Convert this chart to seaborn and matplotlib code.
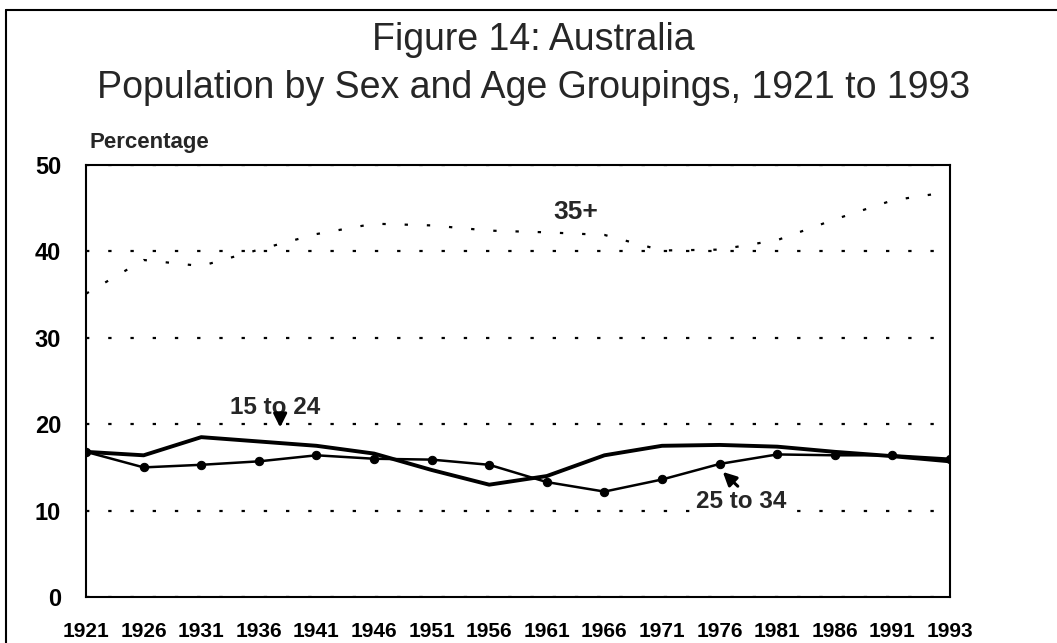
import pandas as pd
import matplotlib.pyplot as plt
import seaborn as sns

years = ['1921', '1926', '1931', '1936', '1941', '1946', '1951', '1956',
         '1961', '1966', '1971', '1976', '1981', '1986', '1991', '1993']
age_15_24 = [16.8, 16.4, 18.5, 18.0, 17.5, 16.6, 14.7, 13.0,
             14.0, 16.4, 17.5, 17.6, 17.4, 16.8, 16.3, 15.7]
age_25_34 = [16.8, 15.0, 15.3, 15.7, 16.4, 16.0, 15.9, 15.3,
             13.3, 12.2, 13.6, 15.4, 16.5, 16.4, 16.4, 16.0]
age_35_plus = [35.1, 39.0, 38.3, 40.2, 42.0, 43.2, 43.0, 42.4,
               42.2, 41.9, 40.1, 40.2, 41.3, 43.7, 45.9, 46.9]

df = pd.DataFrame({'year': years, '15 to 24': age_15_24,
                   '25 to 34': age_25_34, '35+': age_35_plus})

sns.set_theme(style='white')
plt.rcParams['font.family'] = ['Liberation Sans', 'DejaVu Sans']

fig = plt.figure(figsize=(10.57, 6.43), dpi=100)
ax = fig.add_axes([0.0814, 0.0715, 0.8174, 0.672])

dots = (0, (1.5, 8.5))
sns.lineplot(data=df, x='year', y='35+', ax=ax, color='black', lw=1.6,
             linestyle=dots, sort=False)
sns.lineplot(data=df, x='year', y='15 to 24', ax=ax, color='black', lw=2.8,
             sort=False)
sns.lineplot(data=df, x='year', y='25 to 34', ax=ax, color='black', lw=1.8,
             marker='o', markersize=6, markeredgecolor='black', sort=False)

ax.set_xlim(0, len(years) - 1)
ax.set_ylim(0, 50)
ax.set_yticks(range(0, 51, 10))
ax.set_xlabel('')
ax.set_ylabel('')
ax.yaxis.grid(True, linestyle=dots, lw=1.6, color='black')
ax.set_axisbelow(True)
for s in ax.spines.values():
    s.set_visible(True)
    s.set_color('black')
    s.set_linewidth(1.5)
ax.tick_params(axis='both', direction='out', length=10, width=1.3, color='black',
               pad=8, labelcolor='black')
ax.tick_params(axis='x', labelsize=15)
ax.tick_params(axis='y', labelsize=17)
for lab in ax.get_xticklabels() + ax.get_yticklabels():
    lab.set_fontweight('bold')

# labels on the lines
ax.text(8.5, 44.6, '35+', fontsize=19, fontweight='bold', ha='center', va='center')
ax.text(3.28, 21.9, '15 to 24', fontsize=17.5, fontweight='bold', ha='center', va='center')
ax.annotate('', xy=(3.37, 19.3), xytext=(3.37, 21.6),
            arrowprops=dict(arrowstyle='-|>', color='black', lw=2.2, mutation_scale=20))
ax.text(11.38, 11.0, '25 to 34', fontsize=17.5, fontweight='bold', ha='center', va='center',
        bbox=dict(facecolor='white', edgecolor='none', pad=1))
ax.annotate('', xy=(11.02, 14.7), xytext=(11.35, 12.6),
            arrowprops=dict(arrowstyle='-|>', color='black', lw=2.2, mutation_scale=20))

fig.text(0.505, 0.938, 'Figure 14: Australia', fontsize=27, ha='center', va='center')
fig.text(0.505, 0.863, 'Population by Sex and Age Groupings, 1921 to 1993',
         fontsize=27, ha='center', va='center')
fig.text(0.085, 0.778, 'Percentage', fontsize=16, fontweight='bold', ha='left', va='center')

# page frame
fig.add_artist(plt.Line2D([0.006, 0.006], [0, 0.985], color='black', lw=1.5))
fig.add_artist(plt.Line2D([0.006, 1.0], [0.985, 0.985], color='black', lw=1.5))

fig.savefig('out.png', dpi=100)
